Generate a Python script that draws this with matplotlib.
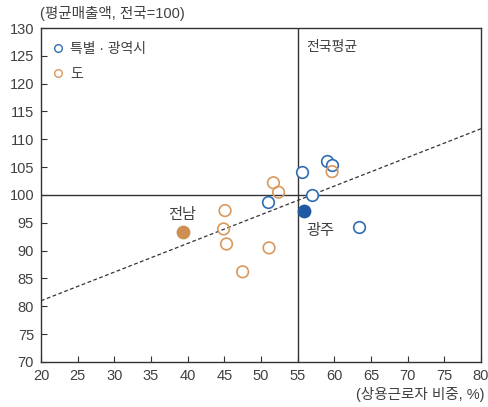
import matplotlib
matplotlib.use("Agg")
import matplotlib.pyplot as plt
from matplotlib.lines import Line2D

plt.rcParams['font.family'] = ['Liberation Sans', 'Noto Sans CJK KR', 'DejaVu Sans']

# 특별·광역시
city_x = [55.6, 59.05, 59.7, 57.0, 51.0, 63.3]
city_y = [104.1, 106.1, 105.4, 100.0, 98.7, 94.2]
# 광주
gwangju = (55.8, 97.2)

# 도
do_x = [59.7, 51.7, 52.4, 45.1, 44.9, 45.3, 51.1, 47.5]
do_y = [104.2, 102.2, 100.5, 97.2, 93.9, 91.2, 90.5, 86.2]
# 전남
jeonnam = (39.4, 93.4)

# 추세선 (양 끝점)
trend_x = [20, 80]
trend_y = [81.0, 111.9]

avg_x = 55
avg_y = 100

blue = '#2f6db3'
blue_dark = '#1f5aa3'
orange = '#d9995e'
orange_dark = '#cf8f52'
text_col = '#404040'

fig = plt.figure(figsize=(4.89, 4.07), dpi=100)
ax = fig.add_axes([0.0838, 0.1106, 0.8998, 0.8206])

ax.plot(trend_x, trend_y, color='#333333', lw=0.9, ls=(0, (3, 2)), zorder=2)
ax.axvline(avg_x, color='#333333', lw=1.0, zorder=1)
ax.axhline(avg_y, color='#333333', lw=1.0, zorder=1)

ax.scatter(city_x, city_y, s=70, facecolors='white', edgecolors=blue, linewidths=1.2, zorder=3)
ax.scatter(do_x, do_y, s=70, facecolors='none', edgecolors=orange, linewidths=1.2, zorder=3)
ax.scatter([gwangju[0]], [gwangju[1]], s=80, color=blue_dark, zorder=4)
ax.scatter([jeonnam[0]], [jeonnam[1]], s=80, color=orange_dark, zorder=4)

ax.text(jeonnam[0] - 0.2, jeonnam[1] + 1.7, '전남', fontsize=11, color=text_col, ha='center', va='bottom')
ax.text(gwangju[0] + 0.4, gwangju[1] - 2.4, '광주', fontsize=11, color=text_col, ha='left', va='top')
ax.text(avg_x + 1.2, 126.6, '전국평균', fontsize=10, color=text_col, ha='left', va='center')

ax.set_xlim(20, 80)
ax.set_ylim(70, 130)
ax.set_xticks(range(20, 81, 5))
ax.set_yticks(range(70, 131, 5))
ax.tick_params(direction='in', length=4, width=0.8, labelsize=10.5, colors='#333333',
               labelcolor=text_col, pad=5)
for sp in ax.spines.values():
    sp.set_color('#333333')
    sp.set_linewidth(1.0)

handles = [
    Line2D([], [], marker='o', ls='none', markersize=5.5, markerfacecolor='white',
           markeredgecolor=blue, markeredgewidth=1.0),
    Line2D([], [], marker='o', ls='none', markersize=5.5, markerfacecolor='white',
           markeredgecolor=orange, markeredgewidth=1.0),
]
leg = ax.legend(handles, ['특별 · 광역시', '도'], loc='upper left', frameon=False,
                fontsize=10, handlelength=0.6, handletextpad=0.6, labelspacing=0.85,
                borderaxespad=0.5, bbox_to_anchor=(0.0, 0.997))
for t in leg.get_texts():
    t.set_color(text_col)

fig.text(0.082, 0.968, '(평균매출액, 전국=100)', fontsize=10.5, color=text_col, ha='left', va='center')
fig.text(0.99, 0.03, '(상용근로자 비중, %)', fontsize=10.5, color=text_col, ha='right', va='center')

fig.savefig('out.png', dpi=100)
